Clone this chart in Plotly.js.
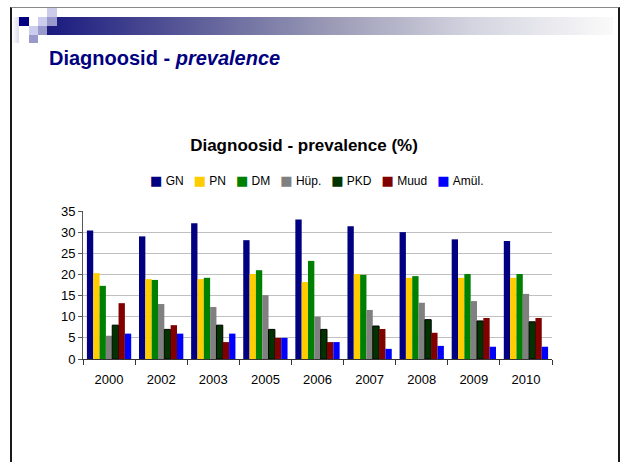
<!DOCTYPE html>
<html>
<head>
<meta charset="utf-8">
<script src="https://cdn.plot.ly/plotly-3.0.1.min.js"></script>
<style>
  html, body { margin:0; padding:0; background:#ffffff; }
  #wrap { position:relative; width:620px; height:462px; overflow:hidden; background:#fff; }
  #frame { position:absolute; left:10px; top:7px; width:606px; height:470px;
           border-left:2px solid #1a1a1a; border-right:2px solid #1a1a1a; border-top:1px solid #8a8a8a; }
  .sq { position:absolute; }
  #bar { position:absolute; left:47px; top:17px; width:566px; height:18px;
         background:linear-gradient(to right, #1a1a80 0%, #5a5a98 25%, #9a9ab6 50%, #d4d4e0 75%, #fafafa 100%); }
  #lg { position:absolute; left:12px; top:17px; width:7px; height:26px;
        background:linear-gradient(to right, #ffffff, #dcdcee); }
  #chart { position:absolute; left:0; top:0; width:620px; height:462px; }
</style>
</head>
<body>
<div id="wrap">
  <div id="frame"></div>
  <div id="bar"></div>
  <div id="lg"></div>
  <div class="sq" style="left:19px;top:17px;width:10px;height:9px;background:#000080"></div>
  <div class="sq" style="left:38px;top:17px;width:9px;height:9px;background:#ccccee"></div>
  <div class="sq" style="left:47px;top:8px;width:10px;height:9px;background:#ccccea"></div>
  <div class="sq" style="left:47px;top:17px;width:10px;height:9px;background:#9999cc"></div>
  <div class="sq" style="left:29px;top:26px;width:9px;height:9px;background:#ccccee"></div>
  <div class="sq" style="left:38px;top:26px;width:9px;height:9px;background:#9999cc"></div>
  <div class="sq" style="left:29px;top:35px;width:9px;height:8px;background:#9999cc"></div>
  <div id="chart"></div>
</div>
<script>
// ---- data ----
const years = ['2000','2002','2003','2005','2006','2007','2008','2009','2010'];
const seriesNames = ['GN','PN','DM','Hüp.','PKD','Muud','Amül.'];
const GN   = [30.4, 29.0, 32.1, 28.1, 33.0, 31.4, 30.0, 28.3, 27.9];
const PN   = [20.3, 18.9, 18.9, 20.1, 18.2, 20.1, 19.2, 19.2, 19.2];
const DM   = [17.3, 18.7, 19.2, 21.0, 23.2, 19.9, 19.6, 20.1, 20.1];
const HUP  = [5.5, 13.0, 12.3, 15.1, 10.0, 11.6, 13.3, 13.7, 15.4];
const PKD  = [8.0, 7.0, 8.0, 7.0, 7.0, 7.8, 9.3, 9.0, 8.8];
const MUUD = [13.2, 8.0, 4.0, 5.0, 4.0, 7.1, 6.2, 9.7, 9.7];
const AMUL = [6.0, 6.0, 6.0, 5.0, 4.0, 2.4, 3.1, 2.9, 2.9];
const yTicks = [0, 5, 10, 15, 20, 25, 30, 35];

// ---- styles ----
const colors = ['#000080', '#FFCC00', '#008000', '#808080', '#003300', '#800000', '#0000FF'];
const values = [GN, PN, DM, HUP, PKD, MUUD, AMUL];

const W = 620, H = 462;
const M = {l: 83, r: 68, t: 211, b: 103};
const PW = W - M.l - M.r, PH = H - M.t - M.b;
const pxX = x => (x - M.l) / PW;
const pxY = y => (H - M.b - y) / PH;

const FONT = '"Liberation Sans", Arial, sans-serif';
const NB = '\u00a0';

const traces = seriesNames.map((n, i) => ({
  type: 'bar',
  name: n,
  x: years,
  y: values[i],
  marker: { color: colors[i], line: { color: i === 4 ? '#000000' : colors[i], width: i === 4 ? 1 : 0 } },
  hoverinfo: 'x+y+name'
}));

// compact legend line (swatch + name), as in the original slide chart
const legendText = seriesNames.map((n, i) =>
  '<span style="color:' + colors[i] + ';font-family:DejaVu Sans;font-size:13px">\u25A0</span>' + NB + n
).join(NB + NB + NB);

const layout = {
  width: W, height: H,
  margin: M,
  paper_bgcolor: 'rgba(0,0,0,0)',
  plot_bgcolor: 'rgba(0,0,0,0)',
  font: { family: FONT, size: 13, color: '#000000' },
  barmode: 'group',
  bargap: 0.15,
  bargroupgap: 0,
  showlegend: false,
  title: {
    text: '<b>Diagnoosid - prevalence (%)</b>',
    x: 304 / W, xref: 'container', xanchor: 'center',
    y: 1 - 145 / H, yref: 'container', yanchor: 'middle',
    font: { family: FONT, size: 17, color: '#000000' }
  },
  xaxis: {
    type: 'category',
    showgrid: false,
    showline: true, linecolor: '#333333', linewidth: 1,
    ticks: 'outside', tickson: 'boundaries', ticklen: 5, tickcolor: '#333333',
    tickfont: { family: FONT, size: 13, color: '#000000' },
    ticklabelstandoff: 8,
    fixedrange: true
  },
  yaxis: {
    range: [0, 35],
    tickvals: yTicks,
    showgrid: true, gridcolor: '#c0c0c0', gridwidth: 1,
    showline: true, linecolor: '#555555', linewidth: 1,
    ticks: 'outside', ticklen: 4, tickcolor: '#555555',
    tickfont: { family: FONT, size: 13, color: '#000000' },
    zeroline: false,
    fixedrange: true
  },
  annotations: [{
    text: '<b>Diagnoosid - <i>prevalence</i></b>',
    xref: 'paper', yref: 'paper',
    x: pxX(47), xanchor: 'left',
    y: pxY(58), yanchor: 'middle',
    showarrow: false,
    font: { family: FONT, size: 20, color: '#000080' }
  }, {
    text: legendText,
    xref: 'paper', yref: 'paper',
    x: pxX(317), xanchor: 'center',
    y: pxY(180), yanchor: 'middle',
    showarrow: false,
    font: { family: FONT, size: 12, color: '#000000' }
  }]
};

Plotly.newPlot('chart', traces, layout, { displayModeBar: false });
</script>
</body>
</html>
